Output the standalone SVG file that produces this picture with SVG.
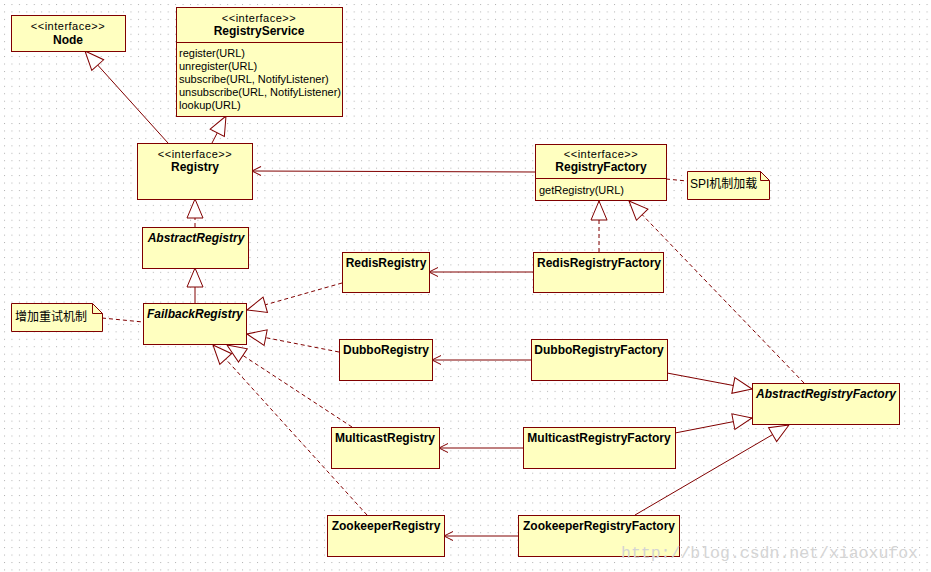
<svg xmlns="http://www.w3.org/2000/svg" width="931" height="572" viewBox="0 0 931 572">
<defs>
<style>
.box{fill:#ffffc0;stroke:#800000;stroke-width:1}
.t{font-family:"Liberation Sans","DejaVu Sans",sans-serif;font-size:11px;fill:#000}
.s{letter-spacing:0.5px}
.b{font-weight:bold;font-size:12px}
.i{font-style:italic}
.m{text-anchor:middle}
.cn{font-family:"Liberation Sans","Noto Sans CJK SC",sans-serif;font-size:12px;fill:#000}
.c{fill:none;stroke:#800000;stroke-width:1}
.d{stroke-dasharray:4 3}
.g{marker-end:url(#tri)}
.a{marker-end:url(#open)}
</style>
<pattern id="grid" x="4" y="4" width="7.44" height="7.44" patternUnits="userSpaceOnUse">
<rect x="0" y="0" width="1" height="1" fill="#b0b0b0"/>
</pattern>
<marker id="tri" markerWidth="22" markerHeight="20" refX="20" refY="10" orient="auto" markerUnits="userSpaceOnUse" overflow="visible">
<path d="M20,10 L1,2 L1,18 Z" fill="#fff" stroke="#800000" stroke-width="1"/>
</marker>
<marker id="open" markerWidth="12" markerHeight="12" refX="10" refY="5" orient="auto" markerUnits="userSpaceOnUse" overflow="visible">
<path d="M1,0.5 L10,5 L1,9.5" fill="none" stroke="#800000" stroke-width="1"/>
</marker>
</defs>
<rect width="931" height="572" fill="#fff"/>
<rect width="931" height="572" fill="url(#grid)"/>

<g id="connectors">
<path class="c g" d="M168,143 L85,51"/>
<path class="c g" d="M212,143 L226,116"/>
<path class="c a" d="M535,172 L252,171"/>
<path class="c d g" d="M599,252 L599,201"/>
<path class="c d g" d="M804,383 L629,201"/>
<path class="c d g" d="M195,227 L195,199"/>
<path class="c g" d="M195,303 L195,268"/>
<path class="c d" d="M102,318 L143,322"/>
<path class="c d" d="M666,179 L687,181"/>
<path class="c d g" d="M342,283 L247,310"/>
<path class="c d g" d="M339,352 L247,334"/>
<path class="c d g" d="M352,427 L227,345"/>
<path class="c d g" d="M367,515 L213,345"/>
<path class="c a" d="M533,272 L429,272"/>
<path class="c a" d="M531,360 L432,360"/>
<path class="c a" d="M523,448 L439,448"/>
<path class="c a" d="M518,536 L444,536"/>
<path class="c g" d="M667,373 L752,389"/>
<path class="c g" d="M675,433 L752,418"/>
<path class="c g" d="M635,515 L789,425"/>
</g>

<g id="Node">
<rect class="box" x="11.5" y="15.5" width="114" height="36"/>
<text class="t s m" x="68" y="30">&lt;&lt;interface&gt;&gt;</text>
<text class="t b m" x="68" y="44">Node</text>
</g>

<g id="RegistryService">
<rect class="box" x="176.5" y="7.5" width="166" height="109"/>
<line class="c" x1="176.5" y1="42.5" x2="342.5" y2="42.5"/>
<text class="t s m" x="259" y="22">&lt;&lt;interface&gt;&gt;</text>
<text class="t b m" x="259" y="35">RegistryService</text>
<text class="t" x="179" y="57">register(URL)</text>
<text class="t" x="179" y="70">unregister(URL)</text>
<text class="t" x="179" y="83">subscribe(URL, NotifyListener)</text>
<text class="t" x="179" y="96">unsubscribe(URL, NotifyListener)</text>
<text class="t" x="179" y="109">lookup(URL)</text>
</g>

<g id="Registry">
<rect class="box" x="137.5" y="143.5" width="115" height="56"/>
<text class="t s m" x="195" y="158">&lt;&lt;interface&gt;&gt;</text>
<text class="t b m" x="195" y="171">Registry</text>
</g>

<g id="RegistryFactory">
<rect class="box" x="535.5" y="144.5" width="131" height="56"/>
<line class="c" x1="535.5" y1="178.5" x2="666.5" y2="178.5"/>
<text class="t s m" x="601" y="158">&lt;&lt;interface&gt;&gt;</text>
<text class="t b m" x="601" y="171">RegistryFactory</text>
<text class="t" x="539" y="194">getRegistry(URL)</text>
</g>

<g id="SPINote">
<path class="box" d="M687.5,171.5 H760.5 L769.5,180.5 V199.5 H687.5 Z"/>
<path class="c" d="M760.5,171.5 V180.5 H769.5"/>
<text class="cn" x="690" y="188">SPI机制加载</text>
</g>

<g id="AbstractRegistry">
<rect class="box" x="142.5" y="227.5" width="106" height="41"/>
<text class="t b i m" x="196" y="242">AbstractRegistry</text>
</g>

<g id="FailbackRegistry">
<rect class="box" x="143.5" y="303.5" width="103" height="41"/>
<text class="t b i m" x="195" y="318">FailbackRegistry</text>
</g>

<g id="RetryNote">
<path class="box" d="M11.5,303.5 H92.5 L102.5,313.5 V331.5 H11.5 Z"/>
<path class="c" d="M92.5,303.5 V313.5 H102.5"/>
<text class="cn" x="15" y="321">增加重试机制</text>
</g>

<g id="RedisRegistry">
<rect class="box" x="342.5" y="252.5" width="87" height="40"/>
<text class="t b m" x="386" y="267">RedisRegistry</text>
</g>

<g id="RedisRegistryFactory">
<rect class="box" x="533.5" y="252.5" width="130" height="40"/>
<text class="t b m" x="599" y="267">RedisRegistryFactory</text>
</g>

<g id="DubboRegistry">
<rect class="box" x="339.5" y="339.5" width="93" height="41"/>
<text class="t b m" x="386" y="354">DubboRegistry</text>
</g>

<g id="DubboRegistryFactory">
<rect class="box" x="531.5" y="339.5" width="136" height="41"/>
<text class="t b m" x="599" y="354">DubboRegistryFactory</text>
</g>

<g id="MulticastRegistry">
<rect class="box" x="331.5" y="427.5" width="108" height="41"/>
<text class="t b m" x="385" y="442">MulticastRegistry</text>
</g>

<g id="MulticastRegistryFactory">
<rect class="box" x="523.5" y="427.5" width="152" height="41"/>
<text class="t b m" x="599" y="442">MulticastRegistryFactory</text>
</g>

<g id="ZookeeperRegistry">
<rect class="box" x="327.5" y="515.5" width="117" height="41"/>
<text class="t b m" x="386" y="530">ZookeeperRegistry</text>
</g>

<g id="ZookeeperRegistryFactory">
<rect class="box" x="518.5" y="515.5" width="161" height="41"/>
<text class="t b m" x="599" y="530">ZookeeperRegistryFactory</text>
</g>

<g id="AbstractRegistryFactory">
<rect class="box" x="752.5" y="383.5" width="147" height="41"/>
<text class="t b i m" x="826" y="398">AbstractRegistryFactory</text>
</g>

<text x="621" y="558" textLength="297" font-family="Liberation Mono, monospace" font-size="16.5" fill="#d4d4d4">http://blog.csdn.net/xiaoxufox</text>
</svg>
